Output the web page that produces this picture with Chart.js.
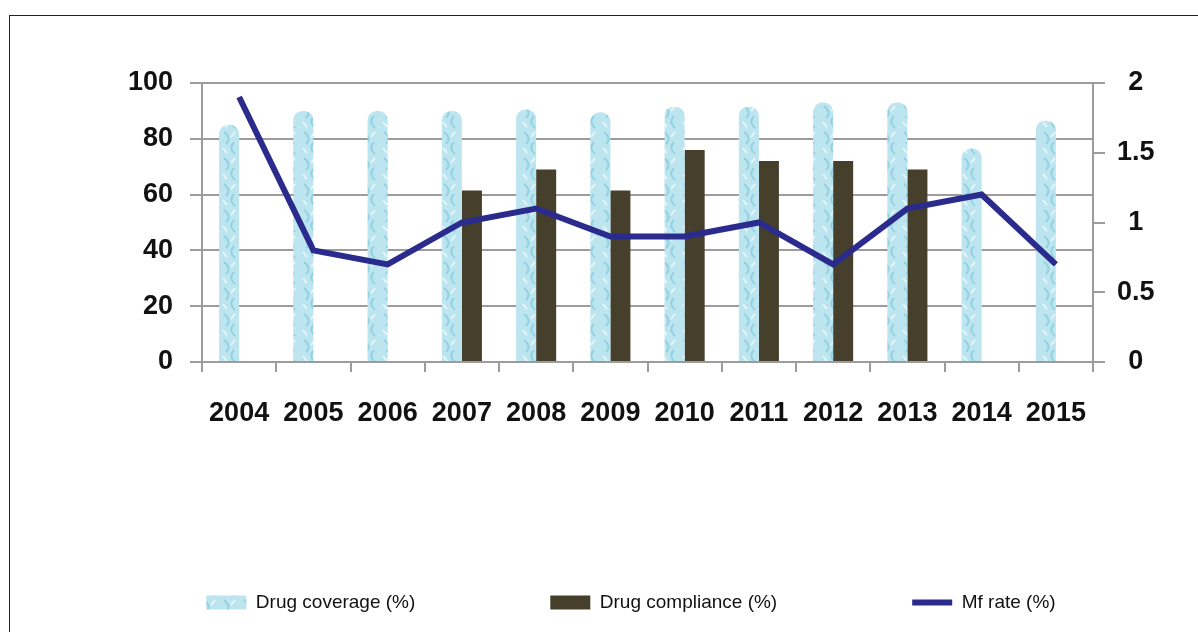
<!DOCTYPE html>
<html>
<head>
<meta charset="utf-8">
<script src="https://cdn.jsdelivr.net/npm/chart.js@4.4.0/dist/chart.umd.min.js"></script>
<style>
html, body { margin: 0; padding: 0; background: #fff; }
#wrap { position: relative; width: 1198px; height: 632px; overflow: hidden; }
#myChart { position: absolute; left: 0; top: 0; }
#frame { position: absolute; left: 9px; top: 15px; width: 1300px; height: 700px;
         border-left: 1.5px solid #222; border-top: 1.5px solid #222; pointer-events: none; }
</style>
</head>
<body>
<div id="wrap">
  <canvas id="myChart" width="1198" height="632"></canvas>
  <div id="frame"></div>
</div>
<script>
var years = ["2004","2005","2006","2007","2008","2009","2010","2011","2012","2013","2014","2015"];
var coverage = [85, 90, 90, 90, 90.5, 89.5, 91.5, 91.5, 93, 93, 76.5, 86.5];
var compliance = [null, null, null, 61.5, 69, 61.5, 76, 72, 72, 69, null, null];
var mfRate = [1.9, 0.8, 0.7, 1.0, 1.1, 0.9, 0.9, 1.0, 0.7, 1.1, 1.2, 0.7];

// textured light blue fill for the coverage bars
function coveragePattern() {
    var c = document.createElement("canvas");
    c.width = 20; c.height = 26;
    var g = c.getContext("2d");
    g.fillStyle = "#bde5f0";
    g.fillRect(0, 0, 20, 26);
    g.strokeStyle = "#93d2e2";
    g.lineWidth = 2;
    g.beginPath();
    g.moveTo(4, 2); g.quadraticCurveTo(12, 8, 6, 14);
    g.moveTo(14, 12); g.quadraticCurveTo(8, 18, 15, 24);
    g.stroke();
    g.strokeStyle = "#e6f6fa";
    g.beginPath();
    g.moveTo(15, 2); g.lineTo(11, 7);
    g.moveTo(3, 18); g.lineTo(7, 23);
    g.stroke();
    return g.createPattern(c, "repeat");
}

var tickFont = { family: "Liberation Sans", size: 27, weight: "bold" };
var gridGray = "#9c9c9c";

new Chart(document.getElementById("myChart"), {
    type: 'bar',
    data: {
        labels: years,
        datasets: [
            {
                label: "Drug coverage (%)",
                data: coverage,
                backgroundColor: coveragePattern(),
                borderWidth: 0,
                borderRadius: { topLeft: 9, topRight: 9 },
                borderSkipped: 'bottom',
                pointStyle: 'rect',
                yAxisID: 'y',
                order: 1
            },
            {
                label: "Drug compliance (%)",
                data: compliance,
                backgroundColor: "#463f2c",
                borderWidth: 0,
                pointStyle: 'rect',
                yAxisID: 'y',
                order: 1
            },
            {
                type: 'line',
                label: "Mf rate (%)",
                data: mfRate,
                borderColor: "#2b2b8e",
                backgroundColor: "#2b2b8e",
                borderWidth: 6,
                pointRadius: 0,
                pointStyle: 'line',
                tension: 0,
                yAxisID: 'y1',
                order: 0
            }
        ]
    },
    options: {
        responsive: false,
        maintainAspectRatio: false,
        animation: false,
        categoryPercentage: 0.54,
        barPercentage: 1.0,
        layout: { padding: { left: 26, right: -38, top: 83, bottom: 10 } },
        plugins: {
            tooltip: { enabled: false },
            legend: {
                position: 'bottom',
                labels: {
                    usePointStyle: true,
                    pointStyleWidth: 40,
                    boxHeight: 14,
                    padding: 135,
                    color: "#111",
                    font: { family: "Liberation Sans", size: 19 },
                    sort: function (a, b) { return a.datasetIndex - b.datasetIndex; }
                }
            }
        },
        scales: {
            x: {
                grid: { drawOnChartArea: false, offset: true, tickLength: 10, color: gridGray, lineWidth: 2 },
                border: { color: gridGray, width: 2 },
                ticks: { color: "#111", font: tickFont, padding: 25, maxRotation: 0, autoSkip: false },
                afterFit: function (s) { s.height = 96; }
            },
            y: {
                position: 'left',
                min: 0, max: 100,
                ticks: { stepSize: 20, color: "#111", font: tickFont, padding: 17 },
                grid: { color: gridGray, lineWidth: 2, tickLength: 12 },
                border: { color: gridGray, width: 2 },
                afterFit: function (s) { s.width = 176; }
            },
            y1: {
                position: 'right',
                min: 0, max: 2,
                ticks: {
                    stepSize: 0.5, color: "#111", font: tickFont, padding: 12, crossAlign: 'center',
                    callback: function (v) { return String(v); }
                },
                grid: { drawOnChartArea: false, color: gridGray, lineWidth: 2, tickLength: 12 },
                border: { color: gridGray, width: 2 },
                afterFit: function (s) { s.width = 143; }
            }
        }
    }
});
</script>
</body>
</html>
